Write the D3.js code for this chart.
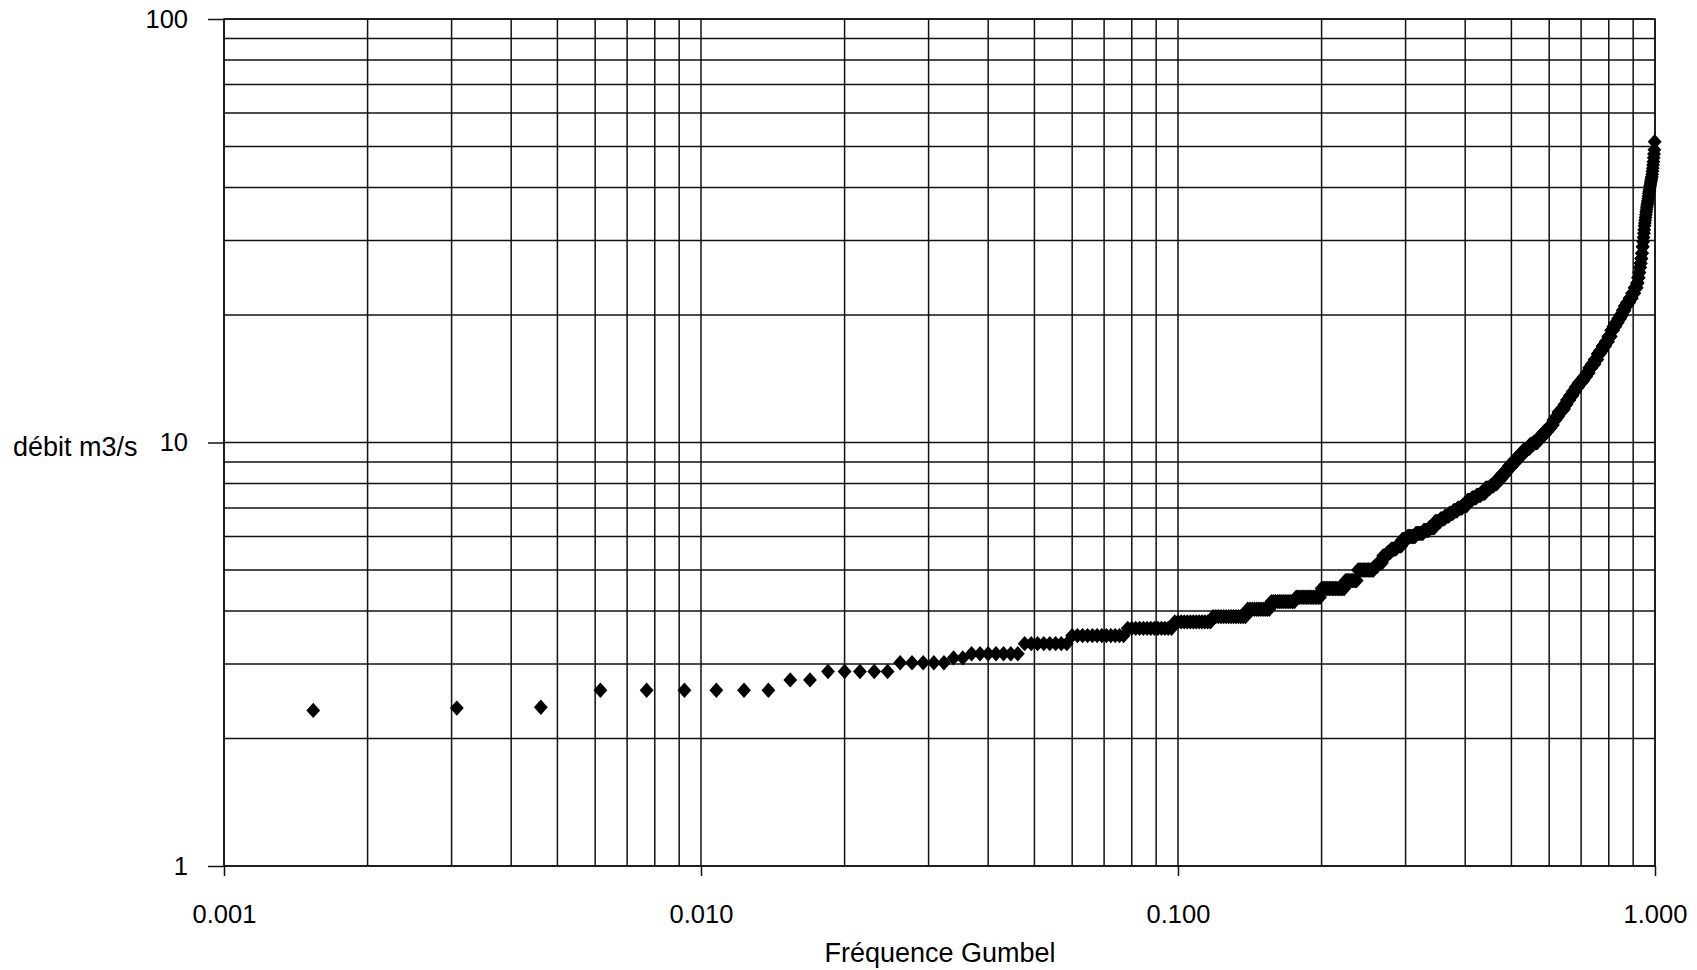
<!DOCTYPE html>
<html><head><meta charset="utf-8">
<script src="https://cdn.jsdelivr.net/npm/d3@7"></script>
<style>body{margin:0;background:#fff;} svg{display:block;}</style>
</head><body><svg id="chart" width="1697" height="970"></svg>
<script>
// ---- data ----
const freqTickValues = [0.001, 0.01, 0.1, 1];
const freqTickLabels = ["0.001", "0.010", "0.100", "1.000"];
const flowTickValues = [1, 10, 100];
const flowTickLabels = ["1", "10", "100"];
const xTitle = "Fréquence Gumbel";
const yTitle = "débit m3/s";
// sorted observed flows (m3/s) and how many observations share each value
const flowValues = [2.33, 2.36, 2.37, 2.60, 2.75, 2.88, 3.02, 3.10, 3.17, 3.35, 3.50, 3.64, 3.77, 3.88, 4.04, 4.21, 4.31, 4.52, 4.72, 5.0,
  5.1, 5.2, 5.4, 5.5, 5.6, 5.7, 5.9, 6.0, 6.1, 6.2, 6.3, 6.5, 6.6, 6.7, 6.8, 6.9, 7.0, 7.1, 7.3, 7.4, 7.5, 7.6, 7.8,
  7.9, 8.0, 8.2, 8.4, 8.6, 8.8, 9.0, 9.2, 9.4, 9.6, 9.7, 9.9, 10, 10.2, 10.4, 10.6, 10.8, 11, 11.3, 11.5, 11.8, 12, 12.3,
  12.6, 12.9, 13.2, 13.5, 13.8, 14, 14.3, 14.6, 15, 15.3, 15.7, 16.2, 16.5, 16.9, 17.3, 17.8, 18.4,
  18.8, 19.2, 19.6, 20, 20.5, 21, 21.4, 21.9, 22.5, 23.2, 23.8, 24.5, 25.2, 25.9, 26.5, 27.2, 28, 29, 29.8,
  30.5, 31.2, 31.8, 32.5, 33, 33.5, 34, 34.5, 35, 35.5, 36, 36.4, 36.7, 37.2, 37.7, 38.2, 38.7, 39.1, 39.5,
  40, 40.4, 40.8, 41.2, 41.6, 42, 42.4, 43, 43.7, 44.4, 45.2, 46, 47, 48, 49.1, 51.3];
const flowCounts = [1, 1, 1, 6, 2, 5, 5, 2, 7, 8, 12, 13, 13, 14, 11, 13, 15, 16, 9, 13,
  3, 4, 4, 3, 5, 5, 5, 8, 8, 6, 6, 6, 5, 5, 5, 5, 6, 6, 6, 6, 6, 6, 7,
  5, 5, 6, 6, 5, 6, 6, 6, 6, 6, 5, 6, 7, 6, 6, 6, 6, 5, 5, 5, 6, 6, 5,
  6, 6, 6, 6, 6, 6, 6, 6, 6, 7, 7, 6, 6, 7, 7, 7, 6,
  6, 6, 6, 6, 6, 6, 7, 7, 7, 7, 3, 3, 2, 2, 2, 2, 2, 2, 1,
  1, 1, 1, 1, 1, 1, 1, 1, 1, 1, 1, 1, 1, 1, 1, 1, 1, 1, 1,
  1, 1, 1, 1, 1, 1, 1, 1, 1, 1, 1, 1, 1, 1, 1, 1];

// ---- build the ranked sample (Weibull plotting position rank/(n+1)) ----
const sample = [];
flowValues.forEach((v, k) => { for (let j = 0; j < flowCounts[k]; j++) sample.push(v); });
const n = sample.length;
const points = sample.map((v, i) => ({ f: (i + 1) / (n + 1), q: v }));

// ---- chart ----
const svg = d3.select("#chart");
const m = { left: 224, right: 1655, top: 19, bottom: 866 };
const x = d3.scaleLog().domain([0.001, 1]).range([m.left, m.right]);
const y = d3.scaleLog().domain([1, 100]).range([m.bottom, m.top]);
const font = "'Liberation Sans', Arial, sans-serif";
const ink = "#111";

svg.append("rect").attr("width", 1697).attr("height", 970).attr("fill", "#fff");

const grid = svg.append("g").attr("stroke", ink).attr("stroke-width", 1.5);
grid.selectAll("line.v").data(x.ticks()).join("line").attr("class", "v")
  .attr("x1", d => x(d)).attr("x2", d => x(d)).attr("y1", m.top).attr("y2", m.bottom);
grid.selectAll("line.h").data(y.ticks()).join("line").attr("class", "h")
  .attr("x1", m.left).attr("x2", m.right).attr("y1", d => y(d)).attr("y2", d => y(d));
grid.append("rect").attr("x", m.left).attr("y", m.top).attr("width", m.right - m.left)
  .attr("height", m.bottom - m.top).attr("fill", "none");

const yAxis = d3.axisLeft(y).tickValues(flowTickValues)
  .tickFormat((d, i) => flowTickLabels[i]).tickSize(16).tickPadding(20).tickSizeOuter(0);
const gy = svg.append("g").attr("transform", `translate(${m.left},0)`).call(yAxis);
gy.select(".domain").remove();
gy.selectAll(".tick line").attr("stroke", ink).attr("stroke-width", 1.5);
gy.selectAll(".tick text").attr("font-family", font).attr("font-size", 25.5).attr("fill", "#000");

const xAxis = d3.axisBottom(x).tickValues(freqTickValues)
  .tickFormat((d, i) => freqTickLabels[i]).tickSize(10).tickPadding(29).tickSizeOuter(0);
const gx = svg.append("g").attr("transform", `translate(0,${m.bottom})`).call(xAxis);
gx.select(".domain").remove();
gx.selectAll(".tick line").attr("stroke", ink).attr("stroke-width", 1.5);
gx.selectAll(".tick text").attr("font-family", font).attr("font-size", 25.5).attr("fill", "#000");

svg.append("text").attr("x", 13).attr("y", y(10) + 4).attr("dy", "0.35em")
  .attr("font-family", font).attr("font-size", 27).attr("fill", "#000").text(yTitle);
svg.append("text").attr("x", 940).attr("y", 962).attr("text-anchor", "middle")
  .attr("font-family", font).attr("font-size", 27).attr("fill", "#000").text(xTitle);

// diamond marker
const diamond = { draw(ctx, size) { const r = Math.sqrt(size / 2);
  ctx.moveTo(0, -r); ctx.lineTo(r * 0.9, 0); ctx.lineTo(0, r); ctx.lineTo(-r * 0.9, 0); ctx.closePath(); } };
const sym = d3.symbol().type(diamond).size(118);
svg.append("g").selectAll("path").data(points).join("path")
  .attr("d", sym).attr("transform", d => `translate(${x(d.f)},${y(d.q)})`).attr("fill", "#000");
</script></body></html>
